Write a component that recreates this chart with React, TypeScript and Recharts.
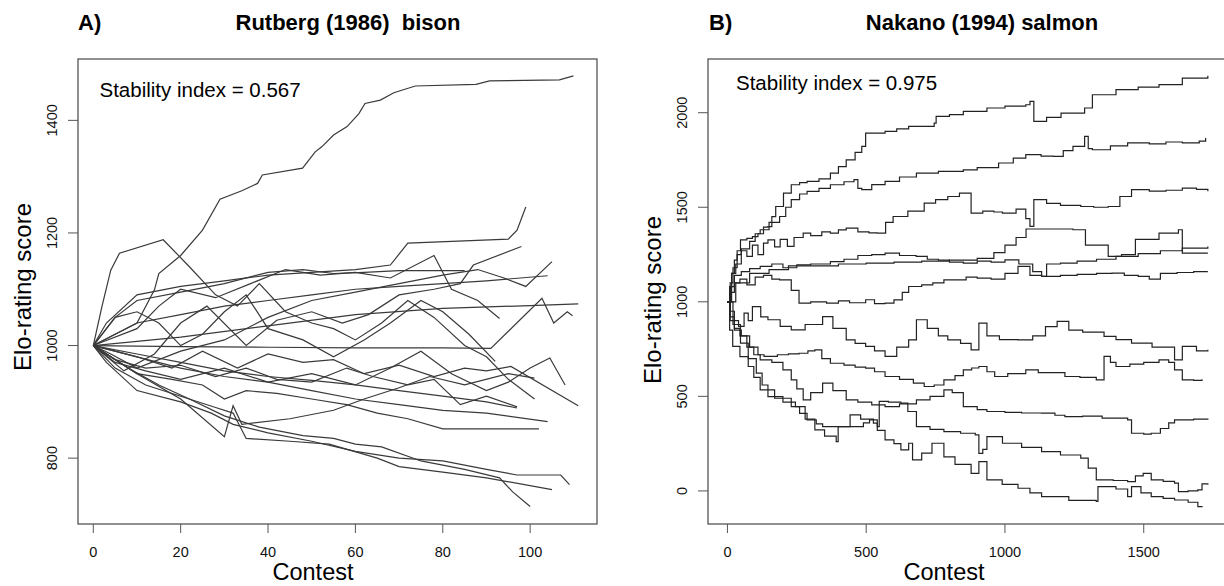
import React from 'react';
import { LineChart, Line, XAxis, YAxis } from 'recharts';

type Pt = [number, number];

const FONT = '"Liberation Sans", Arial, Helvetica, sans-serif';

// Panel A: Rutberg (1986) bison
const rutbergTicksX = [0, 20, 40, 60, 80, 100];
const rutbergTicksY = [800, 1000, 1200, 1400];

const bison01: Pt[] = [[0, 1000], [5, 1020], [10, 1040], [14, 1099], [15, 1128], [20, 1160], [25, 1205], [29, 1260], [34, 1275], [37.6, 1288], [38.7, 1303], [47.9, 1315], [50.8, 1344], [52.3, 1353], [55, 1374], [58.1, 1389], [60.8, 1412], [62.2, 1430], [65.7, 1436], [68.8, 1449], [73.7, 1461], [87.6, 1464], [90.7, 1470], [106.7, 1472], [109.9, 1479]];
const bison02: Pt[] = [[0, 1000], [2, 1070], [4, 1134], [6, 1164], [16, 1188], [22, 1140], [28, 1090], [33, 1070], [38, 1110], [44, 1060], [50, 1040], [55, 1030], [60, 1010], [66, 1040], [72, 1080], [78, 1050], [85, 1000], [90, 980], [95, 940], [101, 905]];
const bison03: Pt[] = [[0, 1000], [3, 1040], [10, 1090], [20, 1105], [30, 1115], [40, 1125], [50, 1130], [60, 1135], [68, 1143], [72, 1182], [95, 1189], [97, 1205], [99, 1246]];
const bison04: Pt[] = [[0, 1000], [7, 955], [14, 985], [20, 1040], [26, 1070], [35, 1000], [42, 1045], [50, 1060], [57, 1040], [63, 1055], [70, 1090], [78, 1100], [84, 1110], [87, 1143], [98, 1176]];
const bison05: Pt[] = [[0, 1000], [4, 985], [10, 960], [20, 990], [30, 1010], [40, 1050], [50, 1080], [60, 1095], [70, 1110], [80, 1125], [88, 1135], [94, 1120], [99, 1105], [105, 1149]];
const bison06: Pt[] = [[0, 1000], [10, 1040], [20, 1055], [30, 1070], [40, 1080], [50, 1090], [60, 1100], [70, 1105], [80, 1110], [90, 1115], [104, 1124]];
const bison07: Pt[] = [[0, 1000], [5, 1050], [10, 1080], [20, 1095], [30, 1110], [40, 1130], [48, 1135], [55, 1128], [62, 1130], [70, 1133], [85, 1133]];
const bison08: Pt[] = [[0, 1000], [10, 1030], [15, 1070], [20, 1100], [28, 1085], [36, 1110], [44, 1135], [52, 1125], [60, 1130], [68, 1120], [78, 1160], [82, 1100], [88, 1080], [93, 1048]];
const bison09: Pt[] = [[0, 1000], [20, 1015], [40, 1035], [60, 1055], [80, 1066], [100, 1071], [111, 1074]];
const bison10: Pt[] = [[0, 1000], [20, 998], [40, 997], [60, 996], [80, 996], [91, 995], [102.7, 1084], [105.4, 1040], [108.5, 1060], [109.7, 1053]];
const bison11: Pt[] = [[0, 1000], [5, 1050], [10, 1060], [15, 1040], [20, 1000], [25, 1020], [30, 1060], [35, 1090], [40, 1030], [48, 1010], [55, 980], [62, 1010], [68, 1040], [75, 1080], [80, 1060], [86, 1020], [92, 972]];
const bison12: Pt[] = [[0, 1000], [5, 970], [12, 955], [20, 940], [30, 960], [40, 935], [50, 950], [60, 930], [68, 960], [75, 990], [82, 950], [90, 920], [95, 935], [100, 960], [104.5, 978], [108, 930]];
const bison13: Pt[] = [[0, 1000], [5, 990], [10, 980], [18, 960], [25, 990], [33, 960], [40, 985], [48, 970], [55, 975], [62, 950], [70, 965], [78, 945], [85, 960], [90, 955], [95.6, 963], [111, 893]];
const bison14: Pt[] = [[0, 1000], [10, 985], [20, 970], [30, 955], [40, 945], [50, 938], [60, 930], [70, 920], [80, 910], [90, 900], [97, 889]];
const bison15: Pt[] = [[0, 1000], [5, 975], [12, 960], [20, 965], [28, 945], [35, 960], [42, 940], [50, 935], [58, 960], [64, 945], [72, 930], [78, 940], [84, 895], [90, 910], [97, 891]];
const bison16: Pt[] = [[0, 1000], [10, 980], [20, 960], [30, 945], [40, 935], [50, 920], [60, 905], [70, 895], [80, 885], [90, 880], [104, 865]];
const bison17: Pt[] = [[0, 1000], [5, 975], [10, 950], [18, 940], [25, 930], [30, 905], [35, 920], [42, 915], [50, 905], [58, 895], [65, 880], [72, 870], [80, 852], [102, 852]];
const bison18: Pt[] = [[0, 1000], [3, 970], [10, 920], [20, 900], [27, 880], [32, 860], [40, 845], [50, 830], [60, 812], [70, 800], [80, 795], [90, 780], [97, 770], [107, 770], [109, 753]];
const bison19: Pt[] = [[0, 1000], [5, 960], [12, 930], [20, 910], [28, 890], [32, 880], [35, 835], [45, 830], [54, 825], [65, 800], [70, 785], [80, 775], [90, 765], [105, 744]];
const bison20: Pt[] = [[0, 1000], [8, 960], [15, 930], [22, 905], [30, 875], [38, 855], [48, 840], [55, 835], [60, 825], [66, 820], [75, 795], [85, 780], [93, 765], [96, 740], [100, 714]];
const bison21: Pt[] = [[0, 1000], [10, 950], [20, 905], [30, 838], [32, 893], [34, 860], [45, 870], [55, 885], [62, 905], [70, 925], [77, 945], [85, 930], [95, 950], [101, 942]];

const bisonLines = [bison01, bison02, bison03, bison04, bison05, bison06, bison07, bison08, bison09, bison10, bison11, bison12, bison13, bison14, bison15, bison16, bison17, bison18, bison19, bison20, bison21];

// Panel B: Nakano (1994) salmon
const nakanoTicksX = [0, 500, 1000, 1500];
const nakanoTicksY = [0, 500, 1000, 1500, 2000];

const salmon01: Pt[] = [[0, 1000], [8, 1080], [15, 1150], [25, 1220], [35, 1270], [47, 1328], [70, 1335], [90, 1345], [110, 1360], [130, 1395], [146, 1398], [160, 1450], [174, 1504], [202, 1575], [230, 1619], [260, 1630], [287, 1637], [330, 1650], [371, 1681], [400, 1715], [428, 1751], [460, 1790], [484, 1822], [498, 1892], [568, 1901], [610, 1915], [653, 1928], [745, 1945], [752, 1981], [800, 1990], [850, 2007], [935, 2025], [1000, 2035], [1075, 2042], [1090, 2060], [1104, 1954], [1150, 1975], [1202, 1998], [1287, 2025], [1315, 2095], [1400, 2122], [1480, 2135], [1555, 2148], [1639, 2183], [1731, 2196]];
const salmon02: Pt[] = [[0, 1000], [10, 1100], [20, 1180], [35, 1250], [50, 1280], [80, 1320], [100, 1360], [118, 1381], [150, 1420], [188, 1451], [210, 1500], [230, 1540], [260, 1570], [287, 1584], [330, 1600], [371, 1619], [420, 1635], [456, 1646], [470, 1600], [484, 1593], [520, 1620], [568, 1637], [620, 1660], [681, 1681], [760, 1690], [850, 1698], [900, 1710], [977, 1734], [1030, 1760], [1075, 1778], [1130, 1770], [1174, 1769], [1210, 1800], [1245, 1822], [1287, 1875], [1300, 1810], [1315, 1804], [1380, 1825], [1442, 1840], [1520, 1835], [1580, 1845], [1639, 1840], [1700, 1850], [1723, 1866]];
const salmon03: Pt[] = [[0, 1000], [15, 1150], [30, 1200], [50, 1270], [70, 1240], [90, 1300], [110, 1250], [130, 1310], [146, 1328], [170, 1290], [190, 1330], [216, 1293], [240, 1340], [273, 1363], [300, 1350], [340, 1370], [371, 1363], [400, 1380], [428, 1390], [470, 1370], [510, 1365], [540, 1363], [570, 1420], [597, 1451], [650, 1480], [709, 1522], [750, 1540], [794, 1557], [836, 1575], [878, 1469], [920, 1480], [960, 1475], [991, 1469], [1040, 1490], [1075, 1440], [1090, 1399], [1104, 1540], [1150, 1520], [1200, 1510], [1273, 1504], [1320, 1500], [1372, 1504], [1414, 1557], [1456, 1593], [1520, 1585], [1580, 1590], [1639, 1601], [1690, 1595], [1731, 1584]];
const salmon04: Pt[] = [[0, 1000], [10, 1080], [25, 1140], [50, 1160], [80, 1175], [118, 1187], [160, 1200], [200, 1180], [250, 1195], [300, 1200], [371, 1213], [420, 1225], [470, 1245], [520, 1250], [568, 1257], [620, 1245], [680, 1240], [720, 1225], [760, 1220], [800, 1210], [850, 1205], [900, 1215], [950, 1210], [1000, 1222], [1050, 1200], [1100, 1160], [1132, 1134], [1150, 1200], [1200, 1205], [1260, 1215], [1330, 1225], [1400, 1240], [1480, 1255], [1560, 1270], [1639, 1284], [1731, 1293]];
const salmon05: Pt[] = [[0, 1000], [30, 1100], [80, 1150], [150, 1170], [220, 1190], [300, 1190], [400, 1200], [500, 1205], [600, 1210], [700, 1215], [800, 1220], [900, 1230], [960, 1260], [1000, 1300], [1040, 1340], [1076, 1385], [1150, 1385], [1245, 1381], [1290, 1300], [1372, 1240], [1420, 1250], [1470, 1330], [1555, 1363], [1625, 1381], [1639, 1257], [1731, 1257]];
const salmon06: Pt[] = [[0, 1000], [10, 1050], [25, 1100], [45, 1120], [70, 1090], [100, 1130], [130, 1140], [160, 1120], [188, 1116], [202, 1116], [230, 1060], [258, 993], [300, 1000], [357, 993], [400, 1005], [440, 995], [498, 1011], [530, 990], [568, 993], [600, 1010], [630, 1050], [653, 1081], [700, 1090], [740, 1100], [780, 1116], [822, 1116], [860, 1130], [900, 1125], [950, 1120], [1000, 1150], [1047, 1187], [1090, 1140], [1132, 1134], [1200, 1140], [1260, 1145], [1330, 1150], [1386, 1152], [1430, 1140], [1480, 1135], [1520, 1120], [1560, 1150], [1620, 1155], [1680, 1160], [1731, 1160]];
const salmon07: Pt[] = [[0, 1000], [10, 950], [25, 900], [40, 870], [60, 940], [75, 900], [90, 975], [120, 920], [146, 905], [190, 870], [230, 852], [280, 880], [343, 922], [380, 860], [428, 799], [460, 780], [498, 764], [530, 740], [568, 711], [610, 760], [653, 799], [681, 905], [720, 860], [760, 820], [794, 799], [840, 780], [878, 746], [906, 887], [935, 820], [980, 800], [1047, 799], [1100, 820], [1146, 869], [1188, 896], [1230, 850], [1280, 840], [1357, 817], [1400, 800], [1456, 781], [1530, 760], [1611, 693], [1639, 764], [1690, 740], [1731, 746]];
const salmon08: Pt[] = [[0, 1000], [10, 900], [25, 850], [50, 820], [80, 760], [110, 720], [132, 711], [180, 720], [220, 725], [258, 728], [290, 740], [315, 746], [340, 700], [371, 675], [420, 665], [460, 655], [498, 649], [530, 630], [568, 605], [620, 590], [670, 570], [709, 552], [745, 560], [780, 587], [820, 610], [850, 640], [880, 650], [906, 658], [935, 630], [963, 605], [1010, 620], [1075, 640], [1120, 625], [1216, 605], [1270, 600], [1329, 587], [1357, 711], [1380, 680], [1400, 658], [1450, 670], [1500, 680], [1555, 693], [1590, 680], [1611, 640], [1639, 587], [1680, 585], [1710, 591]];
const salmon09: Pt[] = [[0, 1000], [10, 920], [25, 860], [45, 820], [70, 760], [95, 720], [118, 693], [160, 680], [200, 640], [230, 587], [250, 540], [273, 481], [300, 520], [343, 570], [380, 530], [428, 481], [470, 470], [520, 455], [568, 446], [620, 460], [681, 481], [730, 500], [780, 534], [810, 520], [850, 446], [900, 430], [935, 420], [1000, 415], [1060, 412], [1132, 411], [1180, 400], [1216, 393], [1280, 395], [1350, 385], [1442, 376], [1456, 305], [1500, 300], [1527, 305], [1560, 330], [1590, 360], [1611, 376], [1680, 380], [1731, 376]];
const salmon10: Pt[] = [[0, 1000], [20, 880], [47, 781], [75, 700], [104, 623], [125, 560], [146, 499], [200, 470], [245, 446], [280, 380], [315, 323], [350, 290], [392, 261], [399, 340], [442, 402], [480, 380], [526, 358], [540, 340], [547, 473], [580, 470], [625, 464], [650, 420], [681, 340], [730, 325], [780, 314], [840, 305], [893, 296], [906, 199], [920, 220], [935, 287], [991, 252], [1060, 230], [1132, 208], [1200, 190], [1273, 173], [1300, 120], [1329, 58], [1390, 55], [1442, 49], [1470, 80], [1498, 93], [1527, 58], [1570, 50], [1611, 41], [1625, -4], [1660, 0], [1695, 5], [1710, 37], [1731, 32]];
const salmon11: Pt[] = [[0, 1000], [8, 850], [19, 764], [45, 710], [75, 658], [95, 600], [118, 534], [170, 490], [230, 446], [260, 410], [287, 376], [320, 355], [343, 340], [400, 340], [456, 340], [490, 360], [512, 376], [540, 320], [568, 270], [600, 250], [625, 217], [653, 252], [667, 164], [700, 200], [737, 252], [780, 180], [820, 140], [878, 93], [906, 155], [935, 58], [990, 35], [1047, 14], [1090, -10], [1132, -30], [1230, -50], [1329, -56], [1335, 23], [1400, 10], [1442, -30], [1456, 23], [1490, -10], [1527, -30], [1570, -40], [1611, -48], [1660, -60], [1695, -83], [1710, -86]];

const salmonLines = [salmon01, salmon02, salmon03, salmon04, salmon05, salmon06, salmon07, salmon08, salmon09, salmon10, salmon11];

const toRows = (pts: Pt[]) => pts.map(([x, y]) => ({ x, y }));

const RotatedTick = (props: any) => {
  const { x, y, payload } = props;
  return (
    <text
      x={x}
      y={y}
      transform={`rotate(-90 ${x} ${y})`}
      textAnchor="middle"
      fontSize={14.5}
      fill="#111"
      fontFamily={FONT}
    >
      {payload.value}
    </text>
  );
};

interface PanelProps {
  lines: Pt[][];
  xDomain: [number, number];
  yDomain: [number, number];
  xTicks: number[];
  yTicks: number[];
  width: number;
  rightMargin: number;
  stroke: string;
  step?: boolean;
}

const Panel: React.FC<PanelProps> = ({ lines, xDomain, yDomain, xTicks, yTicks, width, rightMargin, stroke, step }) => (
  <LineChart width={width} height={586} margin={{ top: 59, right: rightMargin, left: 0, bottom: 0 }}>
    <XAxis
      type="number"
      dataKey="x"
      domain={xDomain}
      ticks={xTicks}
      interval={0}
      allowDataOverflow
      height={62}
      axisLine={false}
      tickSize={9}
      tickMargin={14}
      tickLine={{ stroke: '#555' }}
      tick={{ fontSize: 14.5, fill: '#111', fontFamily: FONT }}
    />
    <YAxis
      type="number"
      domain={yDomain}
      ticks={yTicks}
      interval={0}
      allowDataOverflow
      width={78}
      axisLine={false}
      tickSize={10}
      tickMargin={11}
      tickLine={{ stroke: '#555' }}
      tick={<RotatedTick />}
    />
    {lines.map((pts, i) => (
      <Line
        key={i}
        data={toRows(pts)}
        dataKey="y"
        type={step ? 'stepAfter' : 'linear'}
        stroke={stroke}
        strokeWidth={1.2}
        dot={false}
        activeDot={false}
        isAnimationActive={false}
      />
    ))}
  </LineChart>
);

export default function App() {
  return (
    <div style={{ position: 'absolute', left: 0, top: 0, width: 1224, height: 586, overflow: 'hidden', background: '#fff' }}>
      <div style={{ position: 'absolute', left: 0, top: 0 }}>
        <Panel
          lines={bisonLines}
          xDomain={[-3.5, 115.3]}
          yDomain={[683, 1509]}
          xTicks={rutbergTicksX}
          yTicks={rutbergTicksY}
          width={612}
          rightMargin={15}
          stroke="#3a3a3a"
        />
      </div>
      <div style={{ position: 'absolute', left: 630, top: 0 }}>
        <Panel
          lines={salmonLines}
          xDomain={[-70, 1800]}
          yDomain={[-175, 2284]}
          xTicks={nakanoTicksX}
          yTicks={nakanoTicksY}
          width={600}
          rightMargin={3}
          stroke="#222"
          step
        />
      </div>
      <svg width={1224} height={586} style={{ position: 'absolute', left: 0, top: 0, pointerEvents: 'none' }} fontFamily={FONT}>
        <rect x={78} y={59} width={519} height={465} fill="none" stroke="#555" strokeWidth={1.3} />
        <rect x={708} y={59} width={519} height={465} fill="none" stroke="#555" strokeWidth={1.3} />
        <text x={78} y={30} fontSize={22} fontWeight="bold" fill="#000">A)</text>
        <text x={348} y={30} fontSize={22} fontWeight="bold" fill="#000" textAnchor="middle" style={{ whiteSpace: 'pre' }}>Rutberg (1986)  bison</text>
        <text x={709} y={30} fontSize={22} fontWeight="bold" fill="#000">B)</text>
        <text x={982} y={30} fontSize={22} fontWeight="bold" fill="#000" textAnchor="middle">Nakano (1994) salmon</text>
        <text x={99.5} y={97} fontSize={20.5} fill="#000">Stability index = 0.567</text>
        <text x={736} y={90} fontSize={20.5} fill="#000">Stability index = 0.975</text>
        <text x={313} y={580} fontSize={23.5} fill="#000" textAnchor="middle">Contest</text>
        <text x={944} y={580} fontSize={23.5} fill="#000" textAnchor="middle">Contest</text>
        <text x={31} y={287} fontSize={24} fill="#000" textAnchor="middle" transform="rotate(-90 31 287)">Elo-rating score</text>
        <text x={661} y={300} fontSize={24} fill="#000" textAnchor="middle" transform="rotate(-90 661 300)">Elo-rating score</text>
      </svg>
    </div>
  );
}
